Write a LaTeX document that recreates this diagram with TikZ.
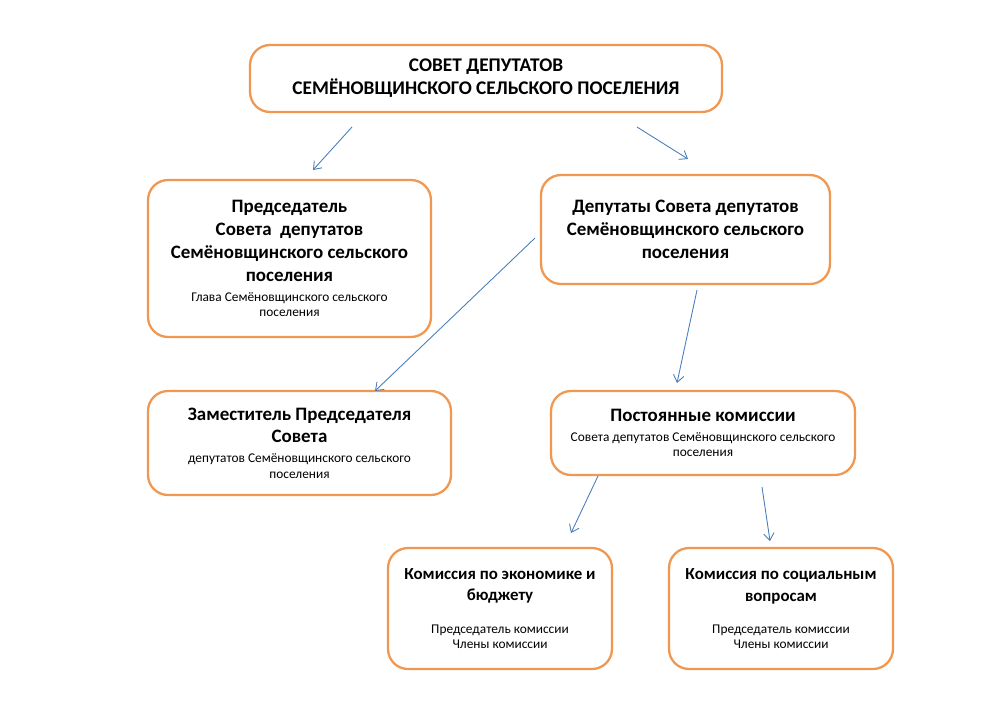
\documentclass[tikz,border=0pt]{standalone}
\usepackage{fontspec}
\setmainfont{Carlito}
\usetikzlibrary{arrows.meta}
\definecolor{boxorange}{RGB}{240,152,82}
\definecolor{arrowblue}{RGB}{74,126,187}
\newcommand{\headfont}{\fontsize{10.8}{13}\selectfont\bfseries}
\newcommand{\subheadfont}{\fontsize{9.6}{12}\selectfont\bfseries}
\newcommand{\titlefont}{\fontsize{11}{13}\selectfont\bfseries}
\newcommand{\notefont}{\fontsize{7.6}{8.8}\selectfont\mdseries}

\begin{document}
\begin{tikzpicture}[x=0.02cm,y=-0.02cm]
    % `unit' is used for every box of the scheme.
    % `link' is used for the thin arrows, which stop short of the boxes.
    \tikzstyle{unit} = [draw=boxorange,line width=1.3pt,fill=white,rounded corners=4mm,align=center,inner sep=2pt,font=\headfont]
    \tikzstyle{link} = [draw=arrowblue,line width=0.5pt,-{Straight Barb[length=4pt,width=6pt]}]
    %
    \useasboundingbox (0,0) rectangle (1000,707);
    \node[unit,font=\titlefont,minimum width=9.44cm,minimum height=1.34cm] (council) at (486,78.5)
      {СОВЕТ ДЕПУТАТОВ\\СЕМЁНОВЩИНСКОГО СЕЛЬСКОГО ПОСЕЛЕНИЯ};
    \node[unit,minimum width=5.66cm,minimum height=3.14cm] (chair) at (289.5,258.5)
      {Председатель\\Совета\ \ депутатов\\Семёновщинского сельского\\поселения\\[-1.7pt]
       \notefont Глава Семёновщинского сельского\\[-4.2pt]\notefont поселения};
    \node[unit,minimum width=5.78cm,minimum height=2.18cm] (deputies) at (685.5,229.5)
      {Депутаты Совета депутатов\\Семёновщинского сельского\\поселения};
    \node[unit,minimum width=6.06cm,minimum height=2.08cm] (vicechair) at (299.5,443)
      {Заместитель Председателя\\Совета\\[-1.7pt]
       \notefont депутатов Семёновщинского сельского\\[-4.2pt]\notefont поселения};
    \node[unit,minimum width=6.08cm,minimum height=1.68cm] (committees) at (703,433)
      {Постоянные комиссии\\[-1.7pt]
       \notefont Совета депутатов Семёновщинского сельского\\[-4.2pt]\notefont поселения};
    \node[unit,font=\subheadfont,minimum width=4.48cm,minimum height=2.42cm] (econ) at (500,608.5)
      {Комиссия по экономике и\\бюджету\\[6.4pt]
       \notefont Председатель комиссии\\[-3.5pt]\notefont Члены комиссии};
    \node[unit,font=\subheadfont,minimum width=4.48cm,minimum height=2.42cm] (social) at (781,608.5)
      {Комиссия по социальным\\[0.6pt]вопросам\\[6pt]
       \notefont Председатель комиссии\\[-3.5pt]\notefont Члены комиссии};
    %
    % Arrow ends.
    \coordinate (c1) at (352,127);  \coordinate (c2) at (313,170);
    \coordinate (c3) at (637,127);  \coordinate (c4) at (688,159);
    \coordinate (d1) at (535,238);  \coordinate (d2) at (375,391);
    \coordinate (d3) at (697,290);  \coordinate (d4) at (677,383);
    \coordinate (p1) at (598,476);  \coordinate (p2) at (571,533);
    \coordinate (p3) at (762,487);  \coordinate (p4) at (770,541);
    \draw[link] (c1) -- (c2);
    \draw[link] (c3) -- (c4);
    \draw[link] (d1) -- (d2);
    \draw[link] (d3) -- (d4);
    \draw[link] (p1) -- (p2);
    \draw[link] (p3) -- (p4);
\end{tikzpicture}
\end{document}
